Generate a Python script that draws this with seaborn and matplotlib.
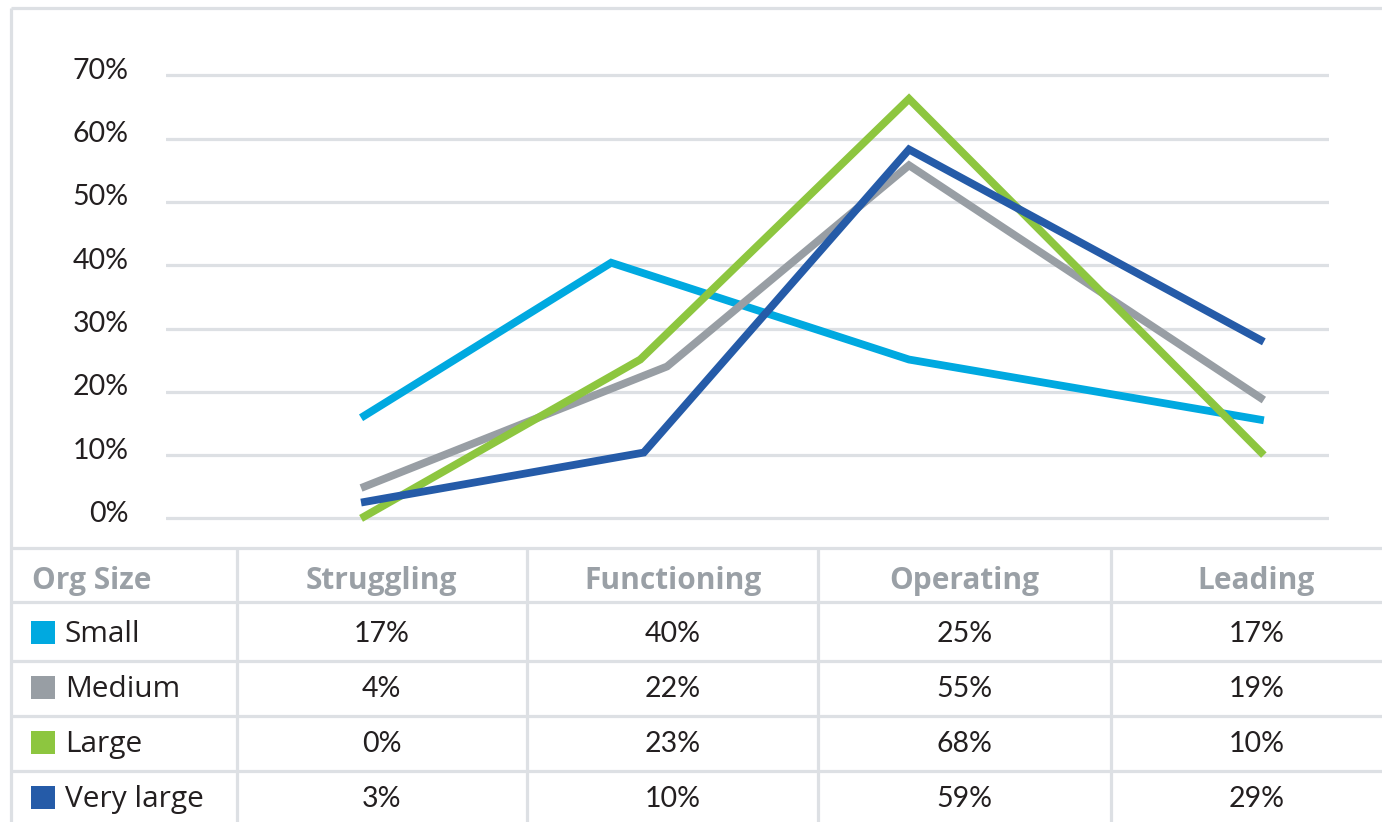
import numpy as np
import pandas as pd
import matplotlib
matplotlib.use("Agg")
import matplotlib.pyplot as plt
import matplotlib.transforms as mtrans
from matplotlib.patches import Rectangle
import seaborn as sns

### data
sizes = ["Small", "Medium", "Large", "Very large"]
stages = ["Struggling", "Functioning", "Operating", "Leading"]
colors = ["#00a9e0", "#989ea4", "#8dc63f", "#255ba8"]

# position of each point along the x axis (0-100)
x_small = [16.8, 38.3, 63.9, 94.4]
x_medium = [16.8, 43.1, 63.9, 94.4]
x_large = [16.8, 40.8, 63.9, 94.4]
x_vlarge = [16.8, 41.1, 63.9, 94.4]

# plotted shares
y_small = [0.159, 0.404, 0.251, 0.155]
y_medium = [0.048, 0.240, 0.558, 0.187]
y_large = [0.0, 0.251, 0.663, 0.100]
y_vlarge = [0.025, 0.104, 0.583, 0.279]

# numbers printed in the table
t_small = [17, 40, 25, 17]
t_medium = [4, 22, 55, 19]
t_large = [0, 23, 68, 10]
t_vlarge = [3, 10, 59, 29]

yticks = [0.0, 0.1, 0.2, 0.3, 0.4, 0.5, 0.6, 0.7]

rows = []
for name, xs, ys in zip(sizes, [x_small, x_medium, x_large, x_vlarge],
                        [y_small, y_medium, y_large, y_vlarge]):
    for st, x, y in zip(stages, xs, ys):
        rows.append({"size": name, "stage": st, "x": x, "share": y})
df = pd.DataFrame(rows)

sns.set_style("white")
plt.rcParams["font.family"] = ["Lato", "DejaVu Sans"]
wide = ["Open Sans", "DejaVu Sans"]

W, H = 1382, 822
fig = plt.figure(figsize=(W / 100, H / 100), dpi=100)

def px_axes(l, t, r, b):
    return fig.add_axes([l / W, 1 - b / H, (r - l) / W, (b - t) / H])

grid_col = "#dde0e4"
dark = "#231f20"
head_col = "#9aa0a6"
fs = 20.5

### frame + table (drawn in pixel coords)
tab = fig.add_axes([0, 0, 1, 1], zorder=0)
tab.set_xlim(0, W)
tab.set_ylim(H, 0)
tab.axis("off")
tab.plot([11, W], [7.7, 7.7], color=grid_col, lw=2.3, solid_capstyle="butt")
tab.plot([11, 11], [7.7, H], color=grid_col, lw=2.3, solid_capstyle="butt")
for yy in [548, 602, 661, 716, 771]:
    tab.plot([11, W], [yy, yy], color=grid_col, lw=2.3, solid_capstyle="butt")
col_edges = [11, 236.6, 526.8, 818.3, 1111, 1402]
for xx in col_edges[1:-1]:
    tab.plot([xx, xx], [548, H], color=grid_col, lw=2.3, solid_capstyle="butt")

centers = [(col_edges[i] + col_edges[i + 1]) / 2 for i in range(1, 5)]
tab.text(32, 589, "Org Size", color=head_col, fontsize=21.5, fontweight="bold",
         family=wide, ha="left", va="baseline")
for cx, st in zip(centers, stages):
    tab.text(cx, 589, st, color=head_col, fontsize=21.5, fontweight="bold",
             family=wide, ha="center", va="baseline")

row_base = [641.7, 696.7, 751.7, 806.7]
for base, name, c, vals in zip(row_base, sizes, colors,
                               [t_small, t_medium, t_large, t_vlarge]):
    tab.add_patch(Rectangle((31, base - 21), 24, 23, color=c, lw=0))
    tab.text(65, base, name, color=dark, fontsize=21.5, family=wide,
             ha="left", va="baseline")
    for cx, v in zip(centers, vals):
        tab.text(cx, base, f"{v}%", color=dark, fontsize=fs,
                 ha="center", va="baseline")

### line chart
ax = px_axes(165.6, 69.1, 1329, 524.7)
ax.set_zorder(2)
ax.patch.set_alpha(0)
sns.lineplot(data=df, x="x", y="share", hue="size", hue_order=sizes,
             palette=colors, sort=False, estimator=None, linewidth=5.6,
             legend=False, ax=ax)
for ln in ax.lines:
    ln.set_solid_joinstyle("miter")
    ln.set_solid_capstyle("butt")
    ln.set_clip_on(False)

ax.set_xlim(0, 100)
ax.set_ylim(-0.01, 0.71)
ax.set_yticks(yticks)
ax.set_yticklabels([f"{int(round(t * 100))}%" for t in yticks])
ax.set_xticks([])
ax.yaxis.grid(True, color=grid_col, linewidth=2.3)
ax.set_axisbelow(True)
ax.tick_params(axis="y", length=0, pad=26.6, labelsize=fs, labelcolor=dark)
ax.set_xlabel("")
ax.set_ylabel("")
sns.despine(ax=ax, left=True, bottom=True)
shift = mtrans.ScaledTranslation(0, 7 / 100, fig.dpi_scale_trans)
for lab in ax.get_yticklabels():
    lab.set_transform(lab.get_transform() + shift)

fig.savefig("out.png", dpi=100)
